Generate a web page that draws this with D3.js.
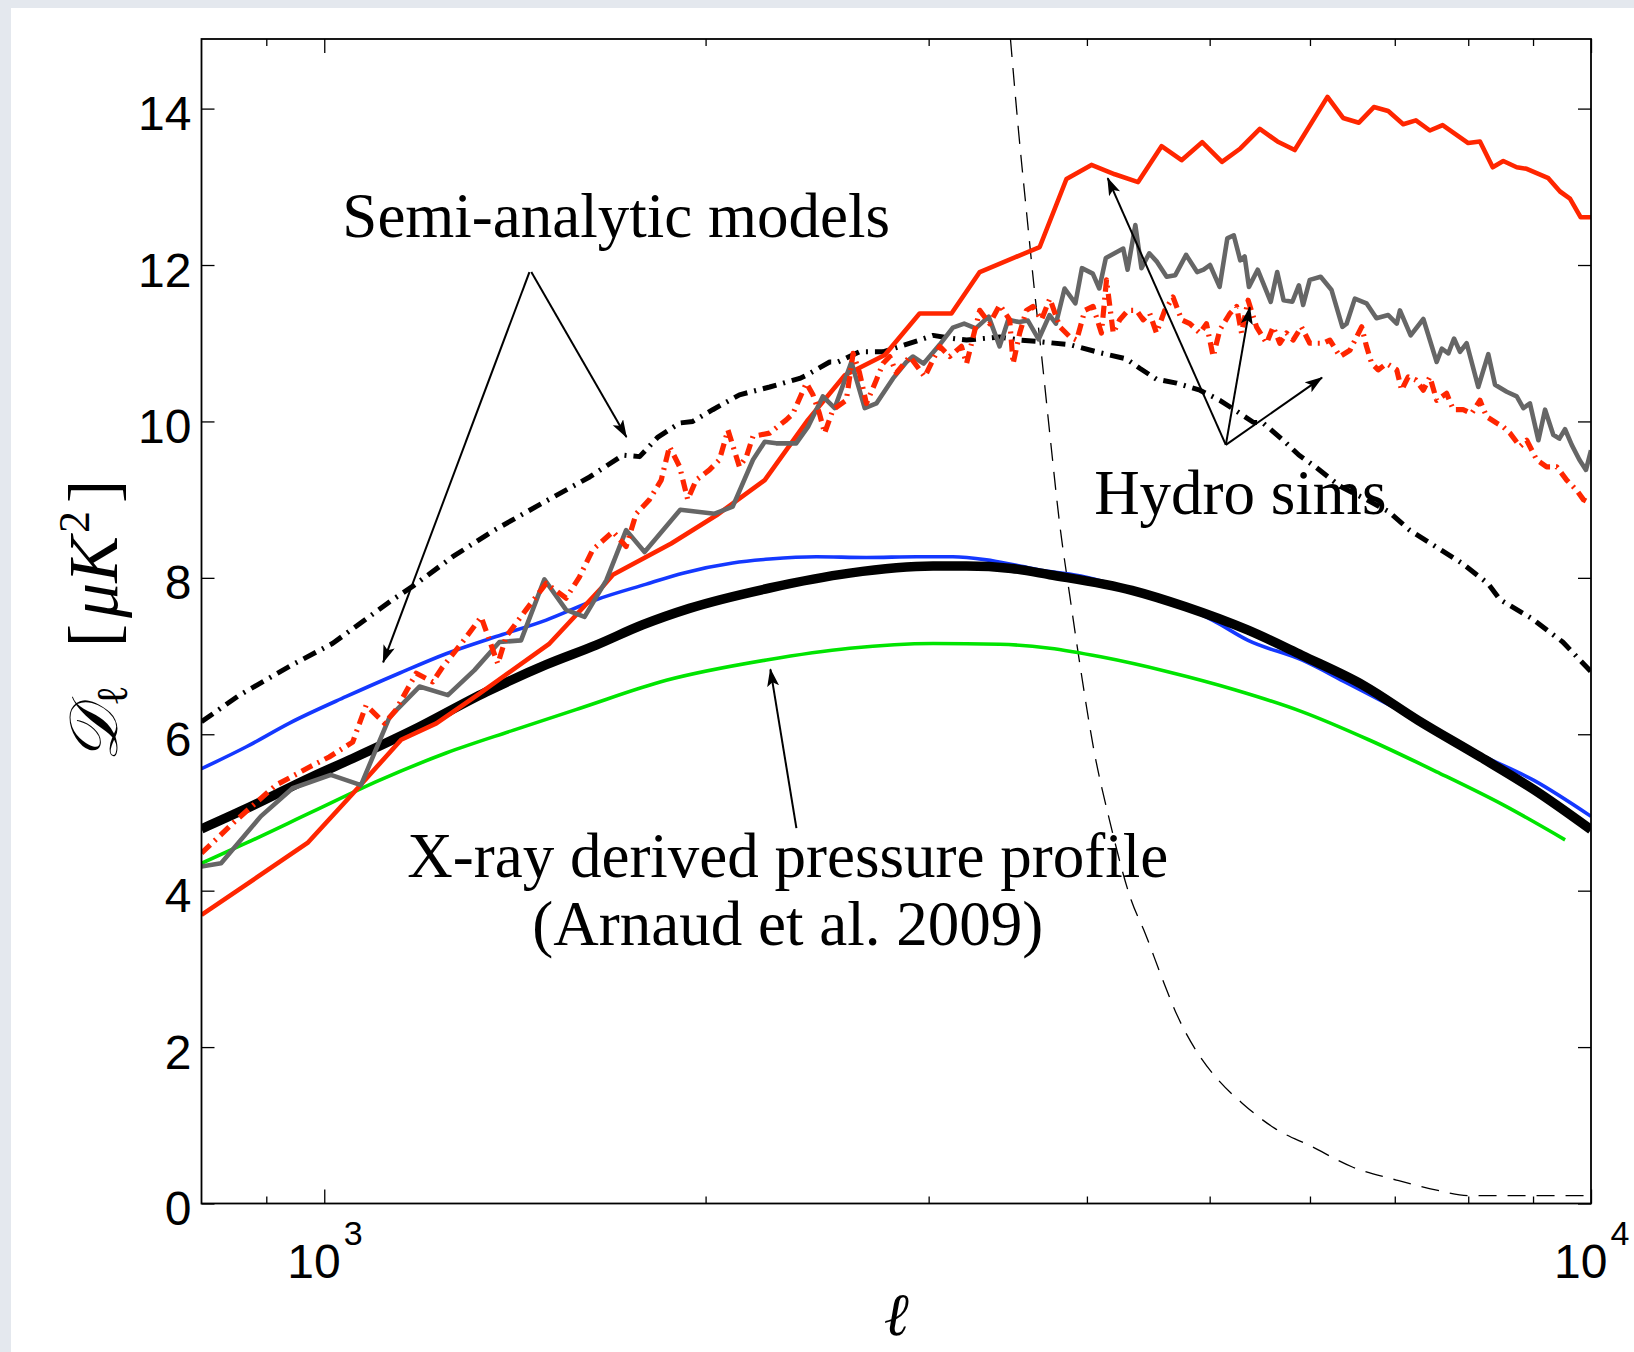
<!DOCTYPE html>
<html><head><meta charset="utf-8">
<script src="https://cdn.jsdelivr.net/npm/d3@7"></script>
<style>body{margin:0;background:#fff;} svg{display:block;}</style>
</head><body><svg id="chart" width="1634" height="1352"></svg>
<script>
// ---------- data (ℓ, D_ℓ [μK^2]) ----------
const xTicksMajor = [1000, 10000];
const xTicksMinor = [900, 2000, 3000, 4000, 5000, 6000, 7000, 8000, 9000];
const yTicks = [0, 2, 4, 6, 8, 10, 12, 14];

const hydroRedSolid = [[800,3.69],[970,4.61],[1053,5.24],[1150,5.93],[1226,6.14],[1326,6.52],[1506,7.16],[1659,7.89],[1690,8.04],[1879,8.44],[2040,8.80],[2227,9.25],[2409,10.02],[2576,10.59],[2770,10.85],[2951,11.38],[3127,11.38],[3292,11.91],[3671,12.23],[3854,13.10],[4033,13.28],[4208,13.16],[4390,13.06],[4581,13.52],[4751,13.34],[4932,13.57],[5113,13.32],[5287,13.49],[5477,13.74],[5655,13.58],[5836,13.47],[6194,14.15],[6372,13.88],[6558,13.82],[6739,14.02],[6917,13.97],[7108,13.80],[7274,13.85],[7461,13.72],[7636,13.79],[8000,13.56],[8172,13.58],[8364,13.25],[8526,13.33],[8737,13.25],[8897,13.23],[9254,13.11],[9452,12.94],[9625,12.85],[9815,12.61],[10000,12.61]];

const hydroGrey = [[800,4.31],[829,4.35],[891,4.95],[944,5.31],[1012,5.48],[1069,5.35],[1126,6.22],[1189,6.61],[1252,6.50],[1314,6.82],[1375,7.18],[1430,7.20],[1492,7.98],[1552,7.59],[1605,7.50],[1670,7.97],[1731,8.61],[1790,8.33],[1910,8.87],[2033,8.82],[2101,8.91],[2180,9.51],[2227,9.74],[2274,9.72],[2358,9.72],[2409,9.93],[2475,10.32],[2529,10.17],[2607,10.76],[2671,10.17],[2728,10.23],[2812,10.55],[2881,10.76],[2915,10.83],[2973,10.74],[3060,10.98],[3135,11.20],[3200,11.25],[3268,11.19],[3346,11.34],[3413,10.96],[3467,11.30],[3536,11.27],[3593,11.29],[3664,11.05],[3737,11.36],[3781,11.25],[3841,11.70],[3917,11.51],[3964,11.96],[4043,11.89],[4091,11.70],[4140,12.09],[4206,12.15],[4273,12.21],[4307,11.94],[4368,12.51],[4417,11.96],[4480,12.15],[4544,12.04],[4624,11.85],[4697,11.87],[4790,12.13],[4887,11.91],[4945,11.94],[5003,12.00],[5091,11.72],[5163,12.34],[5224,12.38],[5286,12.06],[5328,12.11],[5370,11.72],[5456,11.94],[5587,11.53],[5653,11.91],[5719,11.55],[5811,11.53],[5880,11.74],[5926,11.49],[5998,11.81],[6118,11.85],[6240,11.68],[6364,11.21],[6413,11.25],[6510,11.57],[6649,11.51],[6771,11.32],[6917,11.36],[7025,11.25],[7066,11.42],[7205,11.10],[7373,11.31],[7554,10.76],[7624,10.93],[7716,10.87],[7796,11.06],[7881,10.89],[7977,11.00],[8147,10.44],[8297,10.86],[8399,10.47],[8579,10.38],[8737,10.32],[8843,10.17],[8950,10.23],[9088,9.76],[9199,10.15],[9337,9.83],[9441,9.78],[9539,9.90],[9656,9.70],[9791,9.51],[9909,9.38],[10000,9.63]];

const hydroRedDashDot = [[800,4.48],[852,4.90],[916,5.35],[976,5.59],[1009,5.71],[1053,5.90],[1079,6.37],[1116,6.14],[1139,6.31],[1182,6.78],[1218,6.67],[1240,6.86],[1283,7.16],[1330,7.50],[1371,6.90],[1392,7.25],[1443,7.59],[1497,7.93],[1552,7.74],[1590,8.01],[1629,8.36],[1690,8.59],[1731,8.40],[1763,8.82],[1806,9.00],[1845,9.25],[1873,9.68],[1908,9.42],[1936,9.00],[1966,9.25],[2014,9.38],[2051,9.51],[2083,9.89],[2127,9.42],[2154,9.55],[2180,9.81],[2247,9.85],[2316,10.02],[2344,10.10],[2402,10.49],[2431,10.34],[2460,10.10],[2483,9.85],[2521,10.15],[2583,10.27],[2615,10.87],[2646,10.62],[2679,10.23],[2728,10.53],[2761,10.74],[2795,10.83],[2829,10.62],[2899,10.83],[2979,10.57],[3024,10.79],[3061,10.96],[3117,10.83],[3184,10.96],[3214,10.74],[3292,11.42],[3352,11.25],[3414,11.49],[3476,11.30],[3498,10.74],[3540,11.13],[3583,11.42],[3626,11.47],[3683,11.30],[3739,11.57],[3808,11.21],[3879,11.08],[3926,11.04],[3985,11.42],[4045,11.47],[4107,11.13],[4145,11.81],[4196,11.13],[4246,11.30],[4310,11.42],[4377,11.42],[4430,11.30],[4484,11.38],[4539,11.13],[4608,11.42],[4678,11.59],[4751,11.30],[4823,11.25],[4912,11.13],[4971,11.25],[5032,10.83],[5093,11.17],[5187,11.38],[5251,11.47],[5298,11.13],[5362,11.55],[5444,11.21],[5545,11.00],[5612,11.21],[5680,11.00],[5750,11.13],[5819,11.04],[5907,11.21],[5998,11.00],[6035,11.00],[6147,11.00],[6221,11.04],[6336,10.83],[6452,10.91],[6591,11.21],[6649,10.96],[6713,10.74],[6792,10.66],[6897,10.74],[7025,10.66],[7087,10.40],[7173,10.57],[7274,10.53],[7373,10.40],[7461,10.57],[7554,10.27],[7691,10.36],[7785,10.15],[7926,10.15],[8048,10.10],[8172,10.27],[8272,10.06],[8423,9.98],[8526,9.93],[8630,9.85],[8790,9.68],[8897,9.76],[9060,9.51],[9226,9.42],[9396,9.42],[9568,9.25],[9743,9.12],[9863,9.00],[10000,8.95]];

const semiDashDot = [[800,6.16],[857,6.50],[944,6.89],[1015,7.16],[1132,7.72],[1174,7.89],[1263,8.27],[1359,8.60],[1488,8.96],[1620,9.29],[1721,9.57],[1774,9.55],[1834,9.80],[1908,9.98],[1954,10.00],[2026,10.15],[2127,10.34],[2247,10.44],[2373,10.55],[2402,10.59],[2506,10.76],[2544,10.76],[2646,10.89],[2761,10.89],[2951,11.04],[3024,11.10],[3135,11.06],[3214,11.04],[3414,11.08],[3540,11.04],[3671,11.02],[3879,10.98],[4093,10.88],[4297,10.80],[4403,10.68],[4539,10.54],[4708,10.49],[4912,10.40],[5093,10.27],[5218,10.16],[5412,9.99],[5509,9.98],[5715,9.76],[5880,9.57],[6060,9.42],[6339,9.17],[6649,9.00],[6917,8.85],[7192,8.61],[7541,8.40],[7904,8.19],[8290,7.93],[8478,7.72],[8980,7.48],[9500,7.18],[10000,6.80]];

const semiBlue = [[800,5.56],[868,5.84],[938,6.14],[1040,6.48],[1146,6.78],[1248,7.03],[1367,7.25],[1497,7.46],[1639,7.72],[1796,7.92],[1919,8.06],[2101,8.19],[2247,8.24],[2446,8.27],[2679,8.26],[2934,8.27],[3135,8.27],[3332,8.23],[3519,8.16],[3739,8.08],[3875,8.05],[4341,7.85],[4709,7.66],[5024,7.46],[5362,7.20],[5911,6.95],[6410,6.66],[7301,6.18],[8178,5.74],[9015,5.41],[10000,4.95]];

const arnaudBlack = [[800,4.79],[868,5.05],[979,5.46],[1053,5.69],[1174,6.05],[1342,6.54],[1497,6.89],[1639,7.14],[1784,7.40],[1942,7.61],[2247,7.87],[2599,8.06],[3024,8.15],[3214,8.15],[3487,8.12],[3739,8.04],[4341,7.84],[4786,7.63],[5362,7.33],[5911,7.01],[6622,6.62],[7301,6.18],[8178,5.71],[9017,5.29],[10000,4.78]];

const xrayGreen = [[800,4.35],[868,4.61],[979,5.01],[1105,5.41],[1248,5.76],[1409,6.05],[1590,6.33],[1862,6.69],[2234,6.95],[2599,7.10],[3024,7.16],[3414,7.15],[3739,7.10],[4102,6.99],[4633,6.80],[5232,6.57],[5911,6.29],[6676,5.93],[7554,5.52],[8518,5.10],[9540,4.65]];

const thinDashed = [[3481,14.89],[3535,13.66],[3582,12.72],[3637,11.66],[3686,10.80],[3742,9.79],[3806,8.70],[3879,7.75],[3953,6.85],[4051,5.80],[4168,4.90],[4335,3.88],[4448,3.45],[4581,2.90],[4718,2.39],[4894,1.92],[5078,1.58],[5307,1.28],[5629,0.96],[6016,0.73],[6474,0.47],[7020,0.30],[7554,0.17],[8013,0.10],[10000,0.10]];

const labels = [
  {text: "Semi-analytic models", l: 1700, D: 12.36},
  {text: "X-ray derived pressure profile", l: 2322, D: 4.17},
  {text: "(Arnaud et al. 2009)", l: 2322, D: 3.31},
  {text: "Hydro sims", l: 5286, D: 8.82}
];
// arrows: [from ℓ, from D, to ℓ, to D]
const arrows = [
  [1452, 11.91, 1113, 6.92],
  [1457, 11.91, 1732, 9.80],
  [2359, 4.80, 2250, 6.83],
  [5149, 9.70, 4154, 13.11],
  [5149, 9.70, 5378, 11.46],
  [5149, 9.70, 6133, 10.56]
];

// ---------- chart ----------
const W = 1634, H = 1352;
const M = {left: 201.5, right: 1591, top: 39, bottom: 1203.5};
const x = d3.scaleLog().domain([800, 10000]).range([M.left, M.right]);
const y = d3.scaleLinear().domain([0, 14.89]).range([M.bottom, M.top]);

const svg = d3.select('#chart');
svg.append('rect').attr('width', W).attr('height', H).attr('fill', '#e4e8ee');
svg.append('rect').attr('x', 11).attr('y', 8).attr('width', W - 11).attr('height', H - 8).attr('fill', '#fff');

const defs = svg.append('defs');
defs.append('clipPath').attr('id', 'clip').append('rect')
  .attr('x', M.left).attr('y', M.top).attr('width', M.right - M.left).attr('height', M.bottom - M.top);
defs.append('marker').attr('id', 'ah').attr('markerUnits', 'userSpaceOnUse')
  .attr('markerWidth', 20).attr('markerHeight', 14).attr('refX', 17).attr('refY', 6)
  .attr('orient', 'auto')
  .append('path').attr('d', 'M0,0 L18,6 L0,12 L4,6 Z').attr('fill', '#000');

const gPlot = svg.append('g').attr('clip-path', 'url(#clip)');
const lin = d3.line().x(d => x(d[0])).y(d => y(d[1]));
const smooth = d3.line().x(d => x(d[0])).y(d => y(d[1])).curve(d3.curveMonotoneX);

const series = [
  {data: thinDashed, gen: smooth, color: '#000', w: 1.3, dash: '18,11'},
  {data: xrayGreen, gen: smooth, color: '#00e400', w: 3.6},
  {data: semiBlue, gen: smooth, color: '#1438ff', w: 3.6},
  {data: arnaudBlack, gen: smooth, color: '#000', w: 9.5},
  {data: semiDashDot, gen: lin, color: '#000', w: 5, dash: '14,7,2,7'},
  {data: hydroRedSolid, gen: lin, color: '#ff2600', w: 4.6},
  {data: hydroGrey, gen: lin, color: '#666666', w: 4.6},
  {data: hydroRedDashDot, gen: lin, color: '#ff2600', w: 5.2, dash: '12,6,2,6'}
];
series.forEach(s => {
  gPlot.append('path').attr('d', s.gen(s.data)).attr('fill', 'none')
    .attr('stroke', s.color).attr('stroke-width', s.w)
    .attr('stroke-linejoin', 'round')
    .attr('stroke-dasharray', s.dash || null);
});

// axes (ticks inside)
const axFont = 'Liberation Sans, Arial, Helvetica, sans-serif';
function styleAxis(g) {
  g.select('.domain').remove();
  g.selectAll('.tick line').attr('stroke', '#000').attr('stroke-width', 1.3);
}
svg.append('g').attr('transform', `translate(0,${M.bottom})`)
  .call(d3.axisBottom(x).tickValues(xTicksMinor).tickSize(-7).tickFormat(''))
  .call(styleAxis);
svg.append('g').attr('transform', `translate(0,${M.bottom})`)
  .call(d3.axisBottom(x).tickValues(xTicksMajor).tickSize(-14).tickFormat(''))
  .call(styleAxis);
svg.append('g').attr('transform', `translate(0,${M.top})`)
  .call(d3.axisTop(x).tickValues(xTicksMinor).tickSize(-7).tickFormat(''))
  .call(styleAxis);
svg.append('g').attr('transform', `translate(0,${M.top})`)
  .call(d3.axisTop(x).tickValues(xTicksMajor).tickSize(-14).tickFormat(''))
  .call(styleAxis);
const yl = svg.append('g').attr('transform', `translate(${M.left},0)`)
  .call(d3.axisLeft(y).tickValues(yTicks).tickSize(-13).tickPadding(10).tickFormat(d3.format('d')))
  .call(styleAxis);
yl.selectAll('.tick text').attr('font-family', axFont).attr('font-size', 48)
  .attr('fill', '#000').attr('dy', '0.44em');
svg.append('g').attr('transform', `translate(${M.right},0)`)
  .call(d3.axisRight(y).tickValues(yTicks).tickSize(-13).tickFormat(''))
  .call(styleAxis);

// box
svg.append('rect').attr('x', M.left).attr('y', M.top)
  .attr('width', M.right - M.left).attr('height', M.bottom - M.top)
  .attr('fill', 'none').attr('stroke', '#000').attr('stroke-width', 1.8);

// x tick labels 10^3, 10^4
xTicksMajor.forEach(v => {
  const t = svg.append('text').attr('x', x(v) - 37).attr('y', 1278)
    .attr('font-family', axFont).attr('font-size', 48).attr('fill', '#000');
  t.append('tspan').text('10');
  t.append('tspan').attr('font-size', 34).attr('dy', -33).attr('dx', 3).text(String(Math.round(Math.log10(v))));
});

// axis labels
svg.append('text').attr('x', (M.left + M.right) / 2).attr('y', 1335)
  .attr('text-anchor', 'middle').attr('font-family', 'Liberation Serif, serif')
  .attr('font-style', 'italic').attr('font-size', 60).text('ℓ');

const ylab = svg.append('text').attr('transform', 'translate(117,621) rotate(-90)')
  .attr('text-anchor', 'middle').attr('font-family', 'Liberation Serif, serif').attr('font-size', 70);
ylab.append('tspan').attr('font-family', 'DejaVu Serif, serif').attr('font-style', 'italic').attr('font-size', 68).text('𝒟');
ylab.append('tspan').attr('font-size', 44).attr('dy', 10).attr('dx', 2).text('ℓ');
ylab.append('tspan').attr('dy', -10).attr('dx', 38).text('[');
ylab.append('tspan').attr('font-style', 'italic').attr('dx', 6).text('μK');
ylab.append('tspan').attr('font-size', 44).attr('dy', -28).attr('dx', 3).text('2');
ylab.append('tspan').attr('dy', 28).attr('dx', 8).text(']');

// annotations
labels.forEach(a => {
  svg.append('text').attr('x', x(a.l)).attr('y', y(a.D)).attr('text-anchor', 'middle')
    .attr('font-family', 'Liberation Serif, Times New Roman, serif').attr('font-size', 63)
    .attr('fill', '#000').text(a.text);
});
arrows.forEach(a => {
  svg.append('line').attr('x1', x(a[0])).attr('y1', y(a[1])).attr('x2', x(a[2])).attr('y2', y(a[3]))
    .attr('stroke', '#000').attr('stroke-width', 2).attr('marker-end', 'url(#ah)');
});
</script></body></html>
